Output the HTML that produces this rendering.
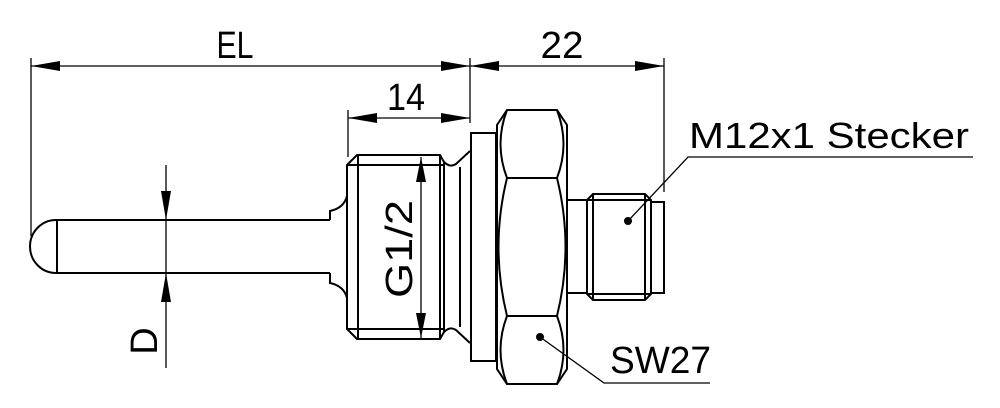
<!DOCTYPE html>
<html><head><meta charset="utf-8"><style>
html,body{margin:0;padding:0;background:#fff;width:1000px;height:408px;overflow:hidden}
svg{display:block}
text{font-family:"Liberation Sans","DejaVu Sans",sans-serif;fill:#000}
</style></head><body>
<svg width="1000" height="408" viewBox="0 0 1000 408" xmlns="http://www.w3.org/2000/svg">
<g fill="none" stroke="#000" stroke-width="1.3">
 <!-- extension lines -->
 <line x1="31" y1="58" x2="31" y2="236"/>
 <line x1="470" y1="58" x2="470" y2="123"/>
 <line x1="664" y1="58" x2="664" y2="192"/>
 <line x1="348" y1="110" x2="348" y2="157"/>
 <!-- dim lines -->
 <line x1="31" y1="66" x2="470" y2="66"/>
 <line x1="470" y1="66" x2="664" y2="66"/>
 <line x1="348" y1="118" x2="470" y2="118"/>
 <line x1="166" y1="165" x2="166" y2="368"/>
 <line x1="421" y1="157" x2="421" y2="338"/>
 <!-- leaders -->
 <polyline points="628,221 688,157 973,157"/>
 <polyline points="540,337 604,383 710,383"/>
</g>
<g fill="#000">
 <polygon points="31,66 60,61 60,71"/>
 <polygon points="470,66 441,61 441,71"/>
 <polygon points="470,66 499,61 499,71"/>
 <polygon points="664,66 635,61 635,71"/>
 <polygon points="348,118 377,113 377,123"/>
 <polygon points="470,118 441,113 441,123"/>
 <polygon points="166,220 161,191 171,191"/>
 <polygon points="166,273 161,302 171,302"/>
 <polygon points="421,157 416,182 426,182"/>
 <polygon points="421,338 416,313 426,313"/>
 <circle cx="628" cy="221" r="4"/>
 <circle cx="540" cy="337" r="4"/>
</g>
<g fill="none" stroke="#000" stroke-width="2">
 <!-- probe -->
 <path d="M330,220 L56,220 A26,26.5 0 0 0 56,273 L330,273"/>
 <line x1="57" y1="220" x2="57" y2="273"/>
 <!-- step -->
 <path d="M330,220 L330,211 Q344,208 347,196"/>
 <path d="M330,273 L330,283 Q344,286 347,298"/>
 <!-- thread body -->
 <path d="M347,165 L357,155 L440,155 L444,162 L444,332 L440,339 L357,339 L347,329 Z"/>
 <line x1="347" y1="165" x2="444" y2="165"/>
 <line x1="347" y1="329" x2="444" y2="329"/>
 <line x1="358" y1="155" x2="358" y2="339"/>
 <line x1="440" y1="155" x2="440" y2="339"/>
 <!-- groove -->
 <path d="M444,162 Q450,168 456,164 L470,151"/>
 <path d="M444,332 Q450,326 456,330 L470,343"/>
 <line x1="460" y1="167" x2="460" y2="327"/>
 <!-- washer -->
 <rect x="471" y="133" width="25" height="228"/>
 <!-- hex -->
 <path d="M507,110 L557,110 L567,125 L567,369 L557,384 L507,384 L497,369 L497,125 Z"/>
 <path d="M507,110 Q494,144 507,178 L557,178 Q570,144 557,110"/>
 <path d="M507,178 Q490,247 507,316 L557,316 Q574,247 557,178"/>
 <path d="M507,316 Q494,350 507,384 M557,316 Q570,350 557,384"/>
 <!-- connector -->
 <path d="M567,200 L587,200 M567,293 L587,293"/>
 <path d="M593,194 L645,194 L651,200 L651,294 L645,300 L593,300 L587,294 L587,200 Z"/>
 <line x1="587" y1="200" x2="651" y2="200"/>
 <line x1="587" y1="294" x2="651" y2="294"/>
 <line x1="593" y1="194" x2="593" y2="300"/>
 <line x1="645" y1="194" x2="645" y2="300"/>
 <rect x="651" y="202" width="13" height="91"/>
</g>
<g font-size="38">
 <text x="235" y="58" text-anchor="middle" textLength="37" lengthAdjust="spacingAndGlyphs">EL</text>
 <text x="562" y="58" text-anchor="middle" textLength="43" lengthAdjust="spacingAndGlyphs">22</text>
 <text x="406" y="110" text-anchor="middle" textLength="38" lengthAdjust="spacingAndGlyphs">14</text>
 <text x="689" y="148" font-size="36" textLength="280" lengthAdjust="spacingAndGlyphs">M12x1 Stecker</text>
 <text x="610" y="373" textLength="101" lengthAdjust="spacingAndGlyphs">SW27</text>
 <text transform="translate(157,341) rotate(-90)" text-anchor="middle">D</text>
 <text transform="translate(412,249) rotate(-90)" text-anchor="middle" textLength="98" lengthAdjust="spacingAndGlyphs">G1/2</text>
</g>
</svg>
</body></html>
